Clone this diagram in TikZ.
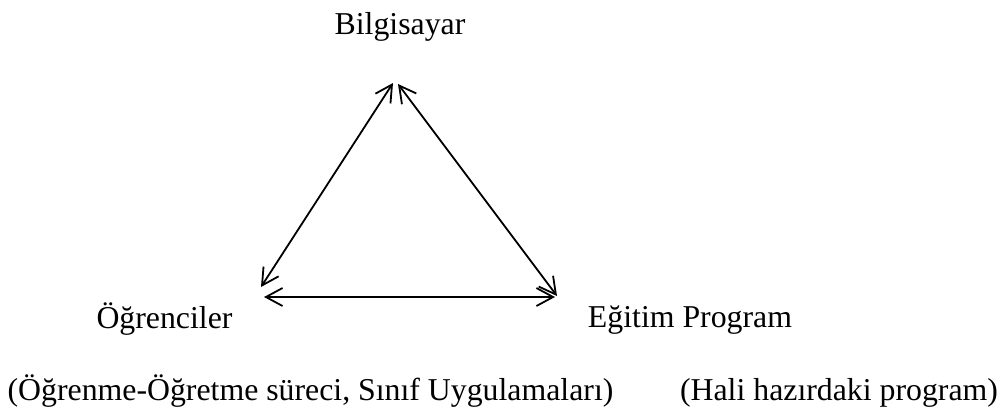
\documentclass[tikz,border=0pt]{standalone}
\usepackage{fontspec}
\setmainfont{Liberation Serif}
\usetikzlibrary{arrows.meta}

\begin{document}
\begin{tikzpicture}[
						x=0.75pt, y=-0.75pt,
						every node/.style={font=\fontsize{23.85}{28}\selectfont, inner sep=0pt},
						link/.style={line width=1.35pt, {Straight Barb[length=12.5pt, width=13.5pt]}-{Straight Barb[length=12.5pt, width=13.5pt]}},
						line cap=round,
						line join=round
						]
						
						\useasboundingbox (0,0) rectangle (1003,412);
						
						% Labels
						\node[anchor=base] (bilg) at (400,34) {Bilgisayar};
						\node[anchor=base] (ogr) at (164.5,328) {Öğrenciler};
						\node[anchor=base] (egt) at (690,327) {Eğitim Program};
						\node[anchor=base] (ogrnot) at (310.5,400) {(Öğrenme-Öğretme süreci, Sınıf Uygulamaları)};
						\node[anchor=base] (egtnot) at (839,400) {(Hali hazırdaki program)};
						
						% Arrow ends
						\coordinate (topL) at (393,83);
						\coordinate (topR) at (398,84);
						\coordinate (lftT) at (261,287);
						\coordinate (lftB) at (264,297);
						\coordinate (rgtT) at (557,296);
						\coordinate (rgtB) at (555,297);
						
						% Arrows
						\draw[link] (lftT) -- (topL);
						\draw[link] (topR) -- (rgtT);
						\draw[link] (lftB) -- (rgtB);
						
					\end{tikzpicture}
\end{document}
